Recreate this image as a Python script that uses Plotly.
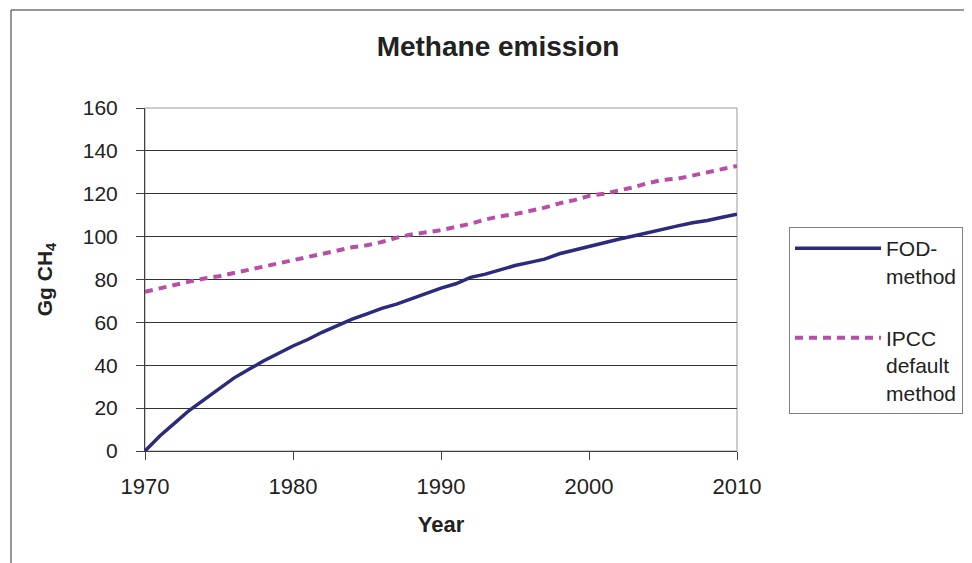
import plotly.graph_objects as go

years = list(range(1970, 2011))
fod_values = [0, 7, 13, 19, 24, 29, 34, 38, 42, 45.5,
              49, 52, 55.5, 58.5, 61.5, 64, 66.5, 68.5, 71, 73.5,
              76, 78, 81, 82.5, 84.5, 86.5, 88, 89.5, 92, 93.8,
              95.5, 97, 98.8, 100.3, 102, 103.5, 105, 106.5, 107.5, 109,
              110.5]
ipcc_values = [74.3, 76, 77.5, 79, 80.5, 81.5, 83, 84.5, 86, 87.5,
               89, 90.5, 92, 93.5, 95, 96, 97.5, 99.5, 101, 102,
               103, 104.5, 106, 108, 109.5, 110.5, 112, 113.5, 115.5, 117,
               119, 120, 121.5, 123, 125, 126.5, 127, 128.5, 130, 131.5,
               133]
x_ticks = [1970, 1980, 1990, 2000, 2010]
y_ticks = [0, 20, 40, 60, 80, 100, 120, 140, 160]

FONT = "Liberation Sans, Arial, sans-serif"
TXT = "#222222"

fig = go.Figure()
fig.add_trace(go.Scatter(
    x=years, y=fod_values, mode="lines", name="FOD-<br>method",
    legendgroup="a",
    line=dict(color="#2b2b7d", width=3.5),
))
fig.add_trace(go.Scatter(
    x=years, y=ipcc_values, mode="lines", name="IPCC<br>default<br>method",
    legendgroup="b",
    line=dict(color="#b84fa6", width=4, dash="8px,6px"),
))

# the page body adds an 8px offset, so the figure is laid out 8px smaller
OFF = 8
W, H = 972 - OFF, 563 - OFF
L, R, T, B = 145 - OFF, 737 - OFF, 108 - OFF, 451 - OFF
pw, ph = R - L, B - T


def px_x(p):
    return (p - OFF - L) / pw


def px_y(p):
    return (B - (p - OFF)) / ph


fig.update_layout(
    width=W, height=H,
    margin=dict(l=L, r=W - R, t=T, b=H - B, autoexpand=False),
    paper_bgcolor="white", plot_bgcolor="white",
    font=dict(family=FONT, color=TXT, size=21),
    title=dict(text="<b>Methane emission</b>", x=(498 - OFF) / W, xanchor="center",
               y=1 - (46 - OFF) / H, yanchor="middle", yref="container",
               font=dict(size=28, family=FONT, color=TXT)),
    showlegend=True,
    legend=dict(x=px_x(789), xanchor="left", y=px_y(227), yanchor="top",
                bordercolor="#808080", borderwidth=1, bgcolor="white",
                valign="top", itemwidth=86, tracegroupgap=32,
                entrywidth=230, entrywidthmode="pixels",
                font=dict(size=21, family=FONT, color=TXT)),
    xaxis=dict(range=[1970, 2010], tickvals=x_ticks, ticktext=[str(v) for v in x_ticks],
               showgrid=False, zeroline=False, showline=True, linecolor="#404040",
               linewidth=1, ticks="outside", ticklen=8, tickcolor="#404040",
               ticklabelstandoff=8, tickfont=dict(size=22),
               title=dict(text="<b>Year</b>", font=dict(size=22), standoff=18)),
    yaxis=dict(range=[0, 160], tickvals=y_ticks, showgrid=True, gridcolor="#333333",
               gridwidth=1, zeroline=False, showline=True, linecolor="#404040",
               linewidth=1, ticks="outside", ticklen=8, tickcolor="#404040",
               ticklabelstandoff=14, tickfont=dict(size=21),
               title=dict(text="<b>Gg CH<sub>4</sub></b>", font=dict(size=21), standoff=24)),
    shapes=[
        dict(type="rect", xref="paper", yref="paper", x0=0, x1=1, y0=0, y1=1,
             line=dict(color="#9a9a9a", width=1), layer="below"),
        dict(type="rect", xref="paper", yref="paper",
             x0=px_x(11), x1=px_x(1100), y0=px_y(700), y1=px_y(10),
             line=dict(color="#303030", width=1), layer="below"),
    ],
)

fig.write_html("out.html")
